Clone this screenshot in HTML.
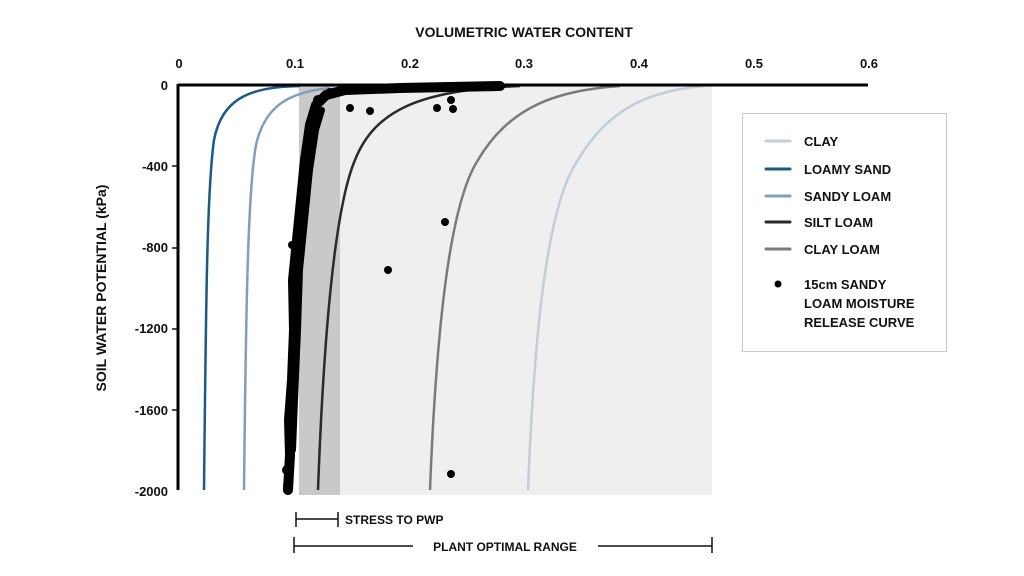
<!DOCTYPE html>
<html><head><meta charset="utf-8"><style>
html,body{margin:0;padding:0;background:#fff;}
svg{display:block;}
text{font-family:"Liberation Sans",sans-serif;font-weight:bold;fill:#111;}
</style></head><body>
<svg width="1024" height="576" viewBox="0 0 1024 576" xmlns="http://www.w3.org/2000/svg">
<rect x="340" y="85" width="372" height="410" fill="#efefef"/>
<rect x="299" y="85" width="41" height="410" fill="#c9c9c9"/>
<text x="524" y="37" font-size="14" text-anchor="middle">VOLUMETRIC WATER CONTENT</text>
<g font-size="13" text-anchor="middle">
<text x="179" y="68">0</text><text x="295" y="68">0.1</text><text x="410" y="68">0.2</text><text x="524" y="68">0.3</text><text x="639" y="68">0.4</text><text x="754" y="68">0.5</text><text x="869" y="68">0.6</text>
</g>
<g font-size="13" text-anchor="end">
<text x="168" y="90">0</text><text x="168" y="171">-400</text><text x="168" y="252">-800</text><text x="168" y="333">-1200</text><text x="168" y="415">-1600</text><text x="168" y="496">-2000</text>
</g>
<text transform="translate(106,288) rotate(-90)" font-size="14" text-anchor="middle">SOIL WATER POTENTIAL (kPa)</text>
<g stroke="#111" stroke-width="1.5">
<line x1="172" y1="166" x2="178" y2="166"/><line x1="172" y1="248" x2="178" y2="248"/><line x1="172" y1="329" x2="178" y2="329"/><line x1="172" y1="410" x2="178" y2="410"/>
</g>
<g fill="none" stroke-width="2.5">
<path d="M204,490 C206,300 207,190 214,140 C222,98 250,87 300,86" stroke="#1a5a8a"/>
<path d="M244,490 C246,300 248,190 256,145 C265,105 290,92 330,88" stroke="#7f9fba"/>
<path d="M318,490 C325,300 338,200 355,160 C375,110 420,90 520,86" stroke="#2a2a2a"/>
<path d="M430,490 C437,310 452,200 478,160 C510,105 560,90 620,86" stroke="#7a7a7a"/>
<path d="M528,490 C535,310 550,200 578,160 C610,105 655,90 705,86" stroke="#c1cdd8"/>
</g>
<path d="M288,490 L290,455 L289,420 L292,380 L294,330 L293,280 L297,240 L301,200 L305,160 L310,125 L316,105 L326,95 L345,90 L400,88 L500,86" fill="none" stroke="#000" stroke-width="10" stroke-linejoin="round" stroke-linecap="round"/>
<path d="M293,450 L295,400 L298,330 L300,270 L305,220 L310,170 L316,130 L322,110" fill="none" stroke="#000" stroke-width="6" stroke-linecap="round"/>
<g fill="#000">
<circle cx="350" cy="108" r="4"/><circle cx="370" cy="111" r="4"/><circle cx="437" cy="108" r="4"/><circle cx="453" cy="109" r="4"/><circle cx="451" cy="100" r="4"/><circle cx="445" cy="222" r="4"/><circle cx="388" cy="270" r="4"/><circle cx="451" cy="474" r="4"/><circle cx="296" cy="252" r="4"/><circle cx="300" cy="215" r="4"/><circle cx="287" cy="470" r="5"/><circle cx="288" cy="485" r="5"/><circle cx="292" cy="245" r="4"/><circle cx="318" cy="100" r="5"/><circle cx="330" cy="93" r="5"/>
</g>
<line x1="178" y1="85" x2="868" y2="85" stroke="#000" stroke-width="3"/>
<line x1="178" y1="84" x2="178" y2="490" stroke="#000" stroke-width="3"/>
<rect x="742.5" y="113.5" width="204" height="238" fill="#fff" stroke="#c8c8c8"/>
<g stroke-width="3" stroke-linecap="round">
<line x1="766" y1="141" x2="790" y2="141" stroke="#c1cdd8"/>
<line x1="766" y1="169" x2="790" y2="169" stroke="#1a5a8a"/>
<line x1="766" y1="196" x2="790" y2="196" stroke="#7f9fba"/>
<line x1="766" y1="222" x2="790" y2="222" stroke="#2a2a2a"/>
<line x1="766" y1="249" x2="790" y2="249" stroke="#7a7a7a"/>
</g>
<circle cx="778" cy="284" r="3.5" fill="#000"/>
<g font-size="13">
<text x="804" y="146">CLAY</text><text x="804" y="174">LOAMY SAND</text><text x="804" y="201">SANDY LOAM</text><text x="804" y="227">SILT LOAM</text><text x="804" y="254">CLAY LOAM</text>
<text x="804" y="289">15cm SANDY</text><text x="804" y="308">LOAM MOISTURE</text><text x="804" y="327">RELEASE CURVE</text>
</g>
<g stroke="#111" stroke-width="1.5">
<line x1="296" y1="512" x2="296" y2="527"/><line x1="338" y1="512" x2="338" y2="527"/><line x1="296" y1="519" x2="338" y2="519"/>
<line x1="294" y1="537" x2="294" y2="553"/><line x1="712" y1="537" x2="712" y2="553"/>
<line x1="294" y1="546" x2="413" y2="546"/><line x1="598" y1="546" x2="712" y2="546"/>
</g>
<text x="345" y="524" font-size="12">STRESS TO PWP</text>
<text x="505" y="551" font-size="12" text-anchor="middle">PLANT OPTIMAL RANGE</text>
</svg>
</body></html>
